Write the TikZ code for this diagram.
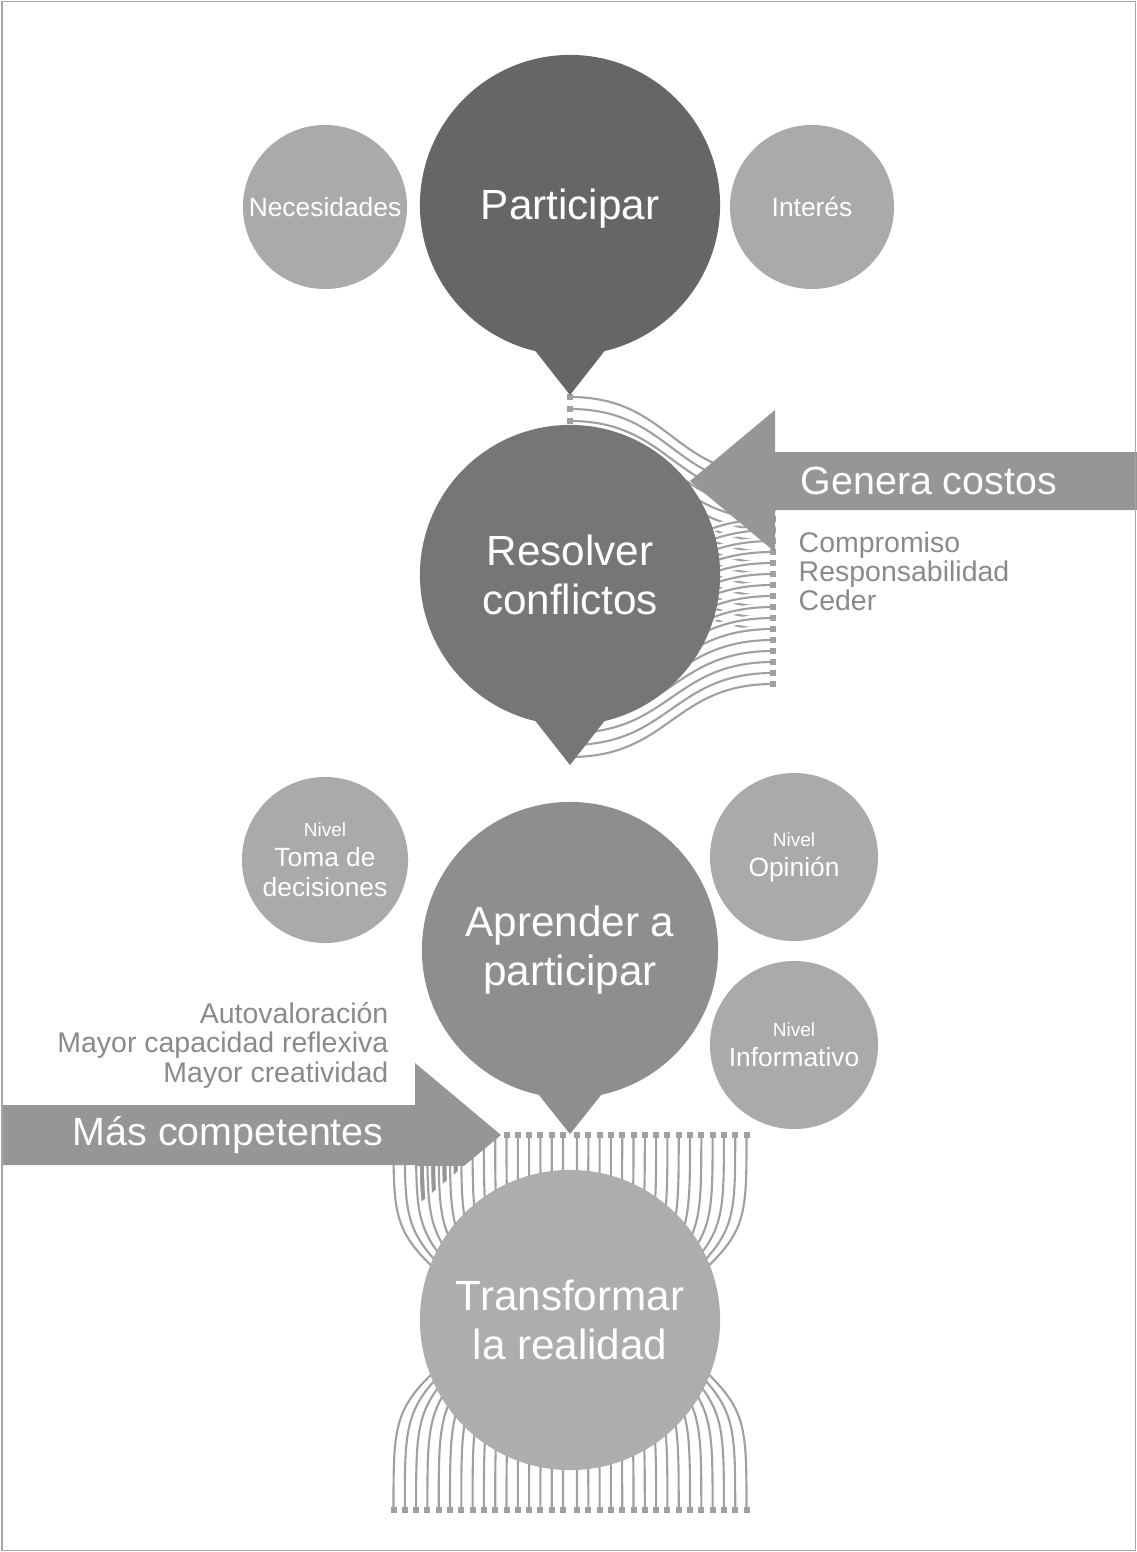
\documentclass[tikz,border=0pt]{standalone}
\usepackage{fontspec}
\setmainfont{Liberation Sans}
\definecolor{discA}{HTML}{666666}
\definecolor{discB}{HTML}{767676}
\definecolor{discC}{HTML}{8E8E8E}
\definecolor{discD}{HTML}{ADADAD}
\definecolor{discS}{HTML}{AAAAAA}
\definecolor{arrowgray}{HTML}{969696}
\definecolor{wiregray}{HTML}{A0A0A0}
\definecolor{notegray}{HTML}{8A8A8A}
\tikzset{
  disc/.style={circle,inner sep=0pt,minimum size=#1,text=white,align=center},
  bigtext/.style={font=\fontsize{12}{13.7}\selectfont},
  smalltext/.style={font=\fontsize{7.5}{8.5}\selectfont},
  notetext/.style={font=\fontsize{8.1}{8.3}\selectfont,text=notegray},
  arrowtext/.style={font=\fontsize{11.2}{13}\selectfont,text=white,inner sep=0pt},
  wire/.style={draw=wiregray,line width=.6pt,preaction={draw=white,line width=2pt}},
  wireend/.style={rectangle,fill=wiregray,inner sep=0pt,minimum size=.6mm}
}
\newcommand{\nivel}{\fontsize{5.4}{6}\selectfont Nivel}
\begin{document}
\begin{tikzpicture}[x=0.01cm,y=-0.01cm]
  \useasboundingbox (0,0) rectangle (1137,1552);
  % bundle behind Resolver conflictos
  \foreach \k in {0,...,14}{
    \coordinate (ul\k) at (570,397+12*\k);
    \coordinate (ur\k) at (773,475+11*\k);
  }
  \foreach \k in {0,...,15}{
    \coordinate (ll\k) at (570,577+12*\k);
    \coordinate (lr\k) at (773,519+11*\k);
  }
  \foreach \k in {0,...,14}
    \draw[wire] (ul\k) .. controls +(100,0) and +(-100,0) .. (ur\k);
  \foreach \k in {0,...,15}
    \draw[wire] (ll\k) .. controls +(100,0) and +(-100,0) .. (lr\k);
  \foreach \k in {0,...,14}{
    \node[wireend] (ula\k) at (ul\k) {};
    \node[wireend] (ura\k) at (ur\k) {};
  }
  \foreach \k in {0,...,15}{
    \node[wireend] (lla\k) at (ll\k) {};
    \node[wireend] (lra\k) at (lr\k) {};
  }

  % top row
  \node[disc=3cm,fill=discA] (part) at (570,205) {};
  \fill[discA] (515,325) -- (625,325) -- (570,395) -- cycle;
  \node[disc=1.64cm,fill=discS,smalltext] (need) at (325,207) {Necesidades};
  \node[disc=1.64cm,fill=discS,smalltext] (inter) at (812,207) {Interés};
  \node[bigtext,text=white] (partt) at (570,209) {Participar};

  % Resolver conflictos
  \node[disc=3cm,fill=discB] (resol) at (570,575) {};
  \fill[discB] (515,695) -- (625,695) -- (570,765) -- cycle;
  \node[bigtext,text=white,align=center] (resolt) at (resol) {Resolver\\conflictos};

  \fill[arrowgray] (1137,452) -- (775,452) -- (775,410) -- (690,481)
    -- (775,552) -- (775,510) -- (1137,510) -- cycle;
  \node[arrowtext,anchor=west] (costos) at (800,481) {Genera costos};
  \node[notetext,anchor=north west,align=left,inner sep=0pt] (costlist) at (798,531)
    {Compromiso\\Responsabilidad\\Ceder};

  % bundles round Transformar la realidad
  \foreach \j in {0,...,15}
    \foreach \s in {-1,1}{
      \pgfmathsetmacro\d{\s*(7+11.3*\j)}
      \draw[wire] (570+\d,1135) .. controls (570+\d,1235) .. (570+.5*\d,1310);
      \draw[wire] (570+\d,1510) .. controls (570+\d,1405) .. (570+.5*\d,1330);
      \node[wireend] at (570+\d,1135) {};
      \node[wireend] at (570+\d,1510) {};
    }
  \fill[arrowgray] (3,1105) -- (415,1105) -- (415,1063) -- (501,1135)
    -- (415,1207) -- (415,1165) -- (3,1165) -- cycle;
  \begin{scope}
    \clip (0,1166) rectangle (1137,1300);
    \foreach \j in {0,...,15}
      \foreach \s in {-1,1}{
        \pgfmathsetmacro\d{\s*(7+11.3*\j)}
        \draw[wire] (570+\d,1135) .. controls (570+\d,1235) .. (570+.5*\d,1310);
      }
  \end{scope}
  \node[arrowtext,anchor=west] (compet) at (72,1135) {Más competentes};
  \node[notetext,anchor=north east,align=right,inner sep=0pt] (complist) at (389,1002)
    {Autovaloración\\Mayor capacidad reflexiva\\Mayor creatividad};

  \node[disc=3cm,fill=discD,bigtext] (transf) at (570,1320) {Transformar\\la realidad};

  % Aprender a participar
  \node[disc=2.96cm,fill=discC] (apren) at (570,950) {};
  \fill[discC] (515,1065) -- (625,1065) -- (570,1134) -- cycle;
  \node[bigtext,text=white,align=center] (arent) at (apren) {Aprender a\\participar};
  \node[disc=1.66cm,fill=discS,smalltext] (toma) at (325,860)
    {{\nivel}\\Toma de\\decisiones};
  \node[disc=1.68cm,fill=discS,smalltext] (opin) at (794,857)
    {{\nivel}\\Opinión};
  \node[disc=1.68cm,fill=discS,smalltext] (info) at (794,1045)
    {{\nivel}\\Informativo};

  \draw[gray!70,line width=.5pt] (2,1.5) rectangle (1135.5,1550.5);
\end{tikzpicture}
\end{document}
